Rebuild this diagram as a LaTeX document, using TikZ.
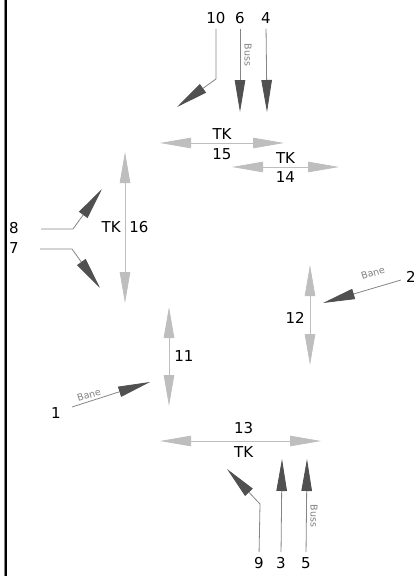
\documentclass[tikz,border=0pt]{standalone}
\usepackage{fontspec}
\setmainfont{DejaVu Sans}
\usetikzlibrary{arrows.meta, positioning, calc}

\definecolor{feedhead}{HTML}{505050}
\definecolor{feedline}{HTML}{858585}
\definecolor{trackgray}{HTML}{BEBEBE}

\begin{document}
\begin{tikzpicture}[
    x=1pt, y=-1pt,
    num/.style={font=\fontsize{15}{17}\selectfont, inner sep=1pt},
    tag/.style={font=\fontsize{9.5}{11}\selectfont, text=gray, inner sep=1pt},
    feed/.style={draw=feedline, line width=0.8pt, shorten <=4pt,
        -{Triangle[length=32pt, width=10.5pt, color=feedhead, fill=feedhead]}},
    track/.style={draw=trackgray, line width=0.8pt,
        {Triangle[length=31pt, width=10.5pt]}-{Triangle[length=31pt, width=10.5pt]}}
]

\useasboundingbox (0,0) rectangle (417,576);

% Left bar
\draw[gray, line width=1pt] (4.5,0) -- (4.5,576);
\draw[black, line width=2pt] (6,0) -- (6,576);

% Nodes
\node[num] (n10) at (216,18) {10};
\node[num] (n6) at (240,18) {6};
\node[num] (n4) at (266,18) {4};
\node[num] (n8) at (14,228) {8};
\node[num] (n7) at (14,248) {7};
\node[num] (n2) at (411,277) {2};
\node[num] (n1) at (56,413) {1};
\node[num] (n9) at (259,563) {9};
\node[num] (n3) at (281,563) {3};
\node[num] (n5) at (306,563) {5};

% Bends and tips
\coordinate (b10) at (216,79);  \coordinate (t10) at (177,107);
\coordinate (t6) at (240,112);  \coordinate (t4) at (267,112);
\coordinate (s8) at (41,229);   \coordinate (b8) at (73,229);   \coordinate (t8) at (102,189);
\coordinate (s7) at (40,249);   \coordinate (b7) at (72,249);   \coordinate (t7) at (100,288);
\coordinate (s2) at (401,280);  \coordinate (t2) at (323,303);
\coordinate (s1) at (72,407);   \coordinate (t1) at (150,382);
\coordinate (b9) at (260,504);  \coordinate (t9) at (227,469);
\coordinate (t3) at (282,459);  \coordinate (t5) at (307,459);

% Track ends
\coordinate (w15) at (160,143); \coordinate (e15) at (284,143);
\coordinate (w14) at (232,167); \coordinate (e14) at (339,167);
\coordinate (n16) at (125,152); \coordinate (s16) at (125,303);
\coordinate (n12) at (310,265); \coordinate (s12) at (310,365);
\coordinate (n11) at (169,307); \coordinate (s11) at (169,406);
\coordinate (w13) at (160,441); \coordinate (e13) at (321,441);

% Tracks
\draw[track] (w15) -- (e15) node[num, midway, above=2pt] {TK} node[num, midway, below=4pt] {15};
\draw[track] (w14) -- (e14) node[num, midway, above=2pt] {TK} node[num, midway, below=3pt] {14};
\draw[track] (n16) -- (s16) node[num, midway, left=3pt] {TK} node[num, midway, right=3pt] {16};
\draw[track] (n12) -- (s12) node[num, pos=0.53, left=4pt] {12};
\draw[track] (n11) -- (s11) node[num, midway, right=4pt] {11};
\draw[track] (w13) -- (e13) node[num, pos=0.52, above=6pt] {13} node[num, pos=0.52, below=4pt] {TK};

% Arrows
\draw[feed] (n10.south) -- (b10) -- (t10);
\draw[feed] (n6.south) -- (t6);
\draw[feed] (n4.south) -- (t4);
\draw[feed, shorten <=0pt] (s8) -- (b8) -- (t8);
\draw[feed, shorten <=0pt] (s7) -- (b7) -- (t7);
\draw[feed, shorten <=0pt] (s2) -- (t2);
\draw[feed, shorten <=0pt] (s1) -- (t1);
\draw[feed] (n9.north) -- (b9) -- (t9);
\draw[feed] (n3.north) -- (t3);
\draw[feed] (n5.north) -- (t5);

% Small tags
\node[tag, rotate=-90] (buss6) at (248,55) {Buss};
\node[tag, rotate=-90] (buss5) at (314,516) {Buss};
\node[tag, rotate=17] (bane2) at (373,273) {Bane};
\node[tag, rotate=17] (bane1) at (89,395) {Bane};

\end{tikzpicture}
\end{document}
